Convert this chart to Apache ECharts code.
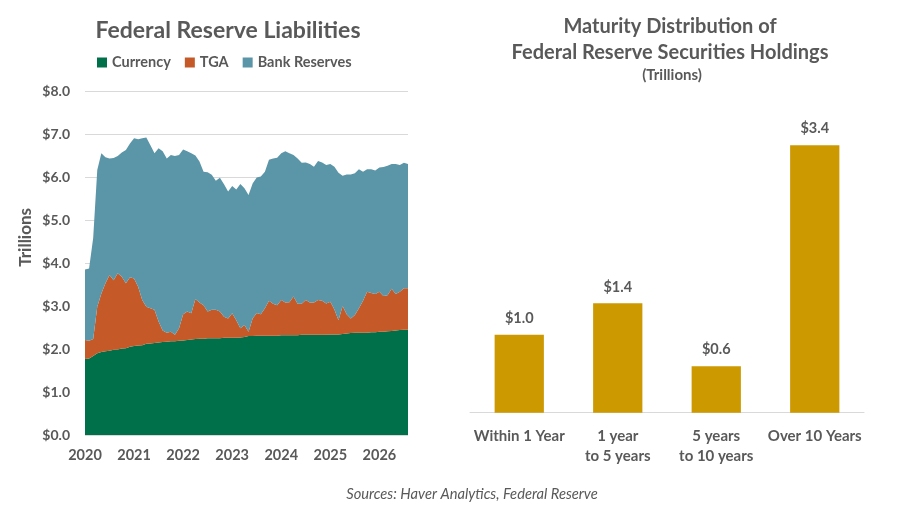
<!DOCTYPE html>
<html>
<head>
<meta charset="utf-8">
<script src="https://cdn.jsdelivr.net/npm/echarts@6/dist/echarts.min.js"></script>
<style>
html,body{margin:0;padding:0;background:#fff;}
#c{width:902px;height:510px;}
</style>
</head>
<body>
<div id="c"></div>
<script>
// ---- Left chart: Federal Reserve Liabilities (trillions of $), monthly Jan 2020 – Aug 2026
const years = ['2020','2021','2022','2023','2024','2025','2026'];
const currency = [
  1.77,1.78,1.84,1.90,1.93,1.95,1.96,1.98,1.99,2.01,2.02,2.05,
  2.07,2.08,2.09,2.12,2.13,2.14,2.15,2.16,2.17,2.18,2.18,2.19,
  2.20,2.21,2.22,2.23,2.24,2.24,2.25,2.25,2.25,2.25,2.26,2.26,
  2.26,2.26,2.27,2.28,2.30,2.30,2.31,2.31,2.31,2.31,2.31,2.31,
  2.32,2.32,2.32,2.32,2.32,2.33,2.33,2.33,2.33,2.33,2.33,2.33,
  2.34,2.34,2.34,2.35,2.36,2.37,2.38,2.38,2.38,2.38,2.39,2.39,
  2.40,2.40,2.41,2.42,2.43,2.44,2.45,2.45
];
const tga = [
  0.44,0.41,0.39,1.08,1.36,1.58,1.76,1.62,1.77,1.67,1.51,1.62,
  1.57,1.37,1.05,0.86,0.82,0.77,0.49,0.27,0.21,0.22,0.15,0.29,
  0.61,0.66,0.61,0.93,0.84,0.78,0.62,0.66,0.66,0.62,0.49,0.45,
  0.57,0.41,0.21,0.28,0.10,0.41,0.53,0.50,0.64,0.81,0.74,0.71,
  0.82,0.76,0.77,0.90,0.73,0.72,0.81,0.75,0.75,0.81,0.79,0.73,
  0.76,0.58,0.33,0.65,0.45,0.34,0.41,0.57,0.74,0.95,0.91,0.89,
  0.93,0.83,0.84,0.98,0.85,0.89,0.96,0.96
];
const bankReserves = [
  1.64,1.68,2.35,3.18,3.26,2.93,2.71,2.84,2.73,2.89,3.10,3.11,
  3.26,3.43,3.76,3.94,3.79,3.64,4.03,4.17,4.05,4.11,4.16,4.03,
  3.83,3.73,3.72,3.34,3.28,3.10,3.24,3.14,3.00,3.11,3.08,2.95,
  2.96,3.04,3.36,3.18,3.18,3.14,3.15,3.20,3.17,3.28,3.38,3.43,
  3.41,3.52,3.46,3.29,3.38,3.28,3.20,3.22,3.16,3.23,3.22,3.22,
  3.20,3.32,3.43,3.03,3.25,3.35,3.30,3.23,3.00,2.85,2.88,2.87,
  2.89,3.00,3.01,2.90,3.02,2.95,2.92,2.89
];
const yTicks = ['$0.0','$1.0','$2.0','$3.0','$4.0','$5.0','$6.0','$7.0','$8.0'];

// ---- Right chart: Maturity distribution (trillions of $)
const maturityCats = ['Within 1 Year','1 year\nto 5 years','5 years\nto 10 years','Over 10 Years'];
const maturityVals = [0.99, 1.39, 0.59, 3.40];

// month categories built from the year list
const months = [];
years.forEach(y => { for (let m = 1; m <= 12; m++) months.push(y + '-' + String(m).padStart(2,'0')); });
const monthCats = months.slice(0, currency.length);

const FONT = 'Lato, "Open Sans", sans-serif';
const TXT = '#595959';

const chart = echarts.init(document.getElementById('c'), null, {renderer:'canvas'});
chart.setOption({
  animation: false,
  textStyle: {fontFamily: FONT},
  title: [
    {text: 'Federal Reserve Liabilities', left: 223, top: 14, textAlign: 'center',
     textStyle: {fontFamily: FONT, fontSize: 23, fontWeight: 'bold', color: TXT}},
    {text: 'Maturity Distribution of\nFederal Reserve Securities Holdings', left: 665, top: 9, textAlign: 'center',
     textStyle: {fontFamily: FONT, fontSize: 20, fontWeight: 'bold', color: TXT, lineHeight: 26, align: 'center'}},
    {text: '(Trillions)', left: 667, top: 63, textAlign: 'center',
     textStyle: {fontFamily: FONT, fontSize: 15, fontWeight: 'bold', color: TXT}},
    {text: 'Sources: Haver Analytics, Federal Reserve', left: 467, top: 482, textAlign: 'center',
     textStyle: {fontFamily: FONT, fontSize: 14.7, fontStyle: 'italic', fontWeight: 'normal', color: TXT}}
  ],
  legend: {
    left: 92, top: 50, itemWidth: 10, itemHeight: 10, itemGap: 14, icon: 'rect',
    data: ['Currency','TGA','Bank Reserves'],
    textStyle: {fontFamily: FONT, fontSize: 14.5, fontWeight: 'bold', color: TXT}
  },
  graphic: [
    {type: 'text', left: 17, top: 208, rotation: Math.PI/2,
     style: {text: 'Trillions', fontFamily: FONT, fontSize: 17, fontWeight: 'bold', fill: TXT}}
  ],
  grid: [
    {left: 85, top: 91, width: 323, height: 344},
    {left: 470, top: 98, width: 394, height: 314.7}
  ],
  xAxis: [
    {gridIndex: 0, type: 'category', data: monthCats, boundaryGap: false,
     axisLine: {show: false}, axisTick: {show: false},
     axisLabel: {interval: 11, margin: 13, formatter: v => v.slice(0,4),
       fontFamily: FONT, fontSize: 14.5, fontWeight: 'bold', color: TXT}},
    {gridIndex: 1, type: 'category', data: maturityCats,
     axisLine: {show: true, lineStyle: {color: '#d9d9d9', width: 1}}, axisTick: {show: false},
     axisLabel: {interval: 0, margin: 13, lineHeight: 20,
       fontFamily: FONT, fontSize: 15, fontWeight: 'bold', color: TXT}}
  ],
  yAxis: [
    {gridIndex: 0, type: 'value', min: 0, max: 8, interval: 1,
     axisLine: {show: false}, axisTick: {show: false},
     splitLine: {lineStyle: {color: '#d9d9d9', width: 1}},
     axisLabel: {margin: 15, formatter: v => yTicks[Math.round(v)],
       fontFamily: FONT, fontSize: 14, fontWeight: 'bold', color: TXT}},
    {gridIndex: 1, type: 'value', min: 0, max: 4, show: false, splitLine: {show: false}}
  ],
  series: [
    {name: 'Currency', type: 'line', xAxisIndex: 0, yAxisIndex: 0, stack: 'liab', data: currency,
     symbol: 'none', lineStyle: {width: 0}, areaStyle: {color: '#00704A', opacity: 1},
     itemStyle: {color: '#00704A'}},
    {name: 'TGA', type: 'line', xAxisIndex: 0, yAxisIndex: 0, stack: 'liab', data: tga,
     symbol: 'none', lineStyle: {width: 0}, areaStyle: {color: '#C55A28', opacity: 1},
     itemStyle: {color: '#C55A28'}},
    {name: 'Bank Reserves', type: 'line', xAxisIndex: 0, yAxisIndex: 0, stack: 'liab', data: bankReserves,
     symbol: 'none', lineStyle: {width: 0}, areaStyle: {color: '#5B95A8', opacity: 1},
     itemStyle: {color: '#5B95A8'}},
    {name: 'Maturity', type: 'bar', xAxisIndex: 1, yAxisIndex: 1, data: maturityVals,
     barWidth: '50%', itemStyle: {color: '#CC9900'},
     label: {show: true, position: 'top', distance: 9, formatter: p => '$' + p.value.toFixed(1),
       fontFamily: FONT, fontSize: 14.5, fontWeight: 'bold', color: TXT}}
  ]
});
</script>
</body>
</html>
